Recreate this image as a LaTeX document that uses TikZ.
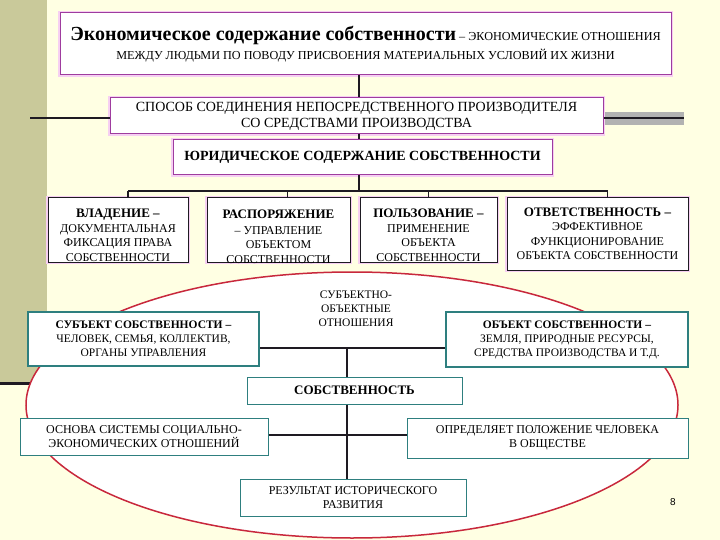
\documentclass[tikz,border=0pt]{standalone}
\usepackage{fontspec}
\setmainfont{Liberation Serif}
\newfontfamily\pagefont{Liberation Sans}
\definecolor{paper}{HTML}{FFFFE3}
\definecolor{band}{HTML}{C9C99A}
\definecolor{plum}{HTML}{9E3C9E}
\definecolor{glow}{HTML}{F6CFF2}
\definecolor{sea}{HTML}{2E7F7F}
\definecolor{rim}{HTML}{C8283C}
\definecolor{ink}{HTML}{1E1A22}
\tikzset{line width=1pt,
  every node/.style={font=\fontsize{12}{14.5}\selectfont},
  plumbox/.style={draw=plum,fill=white,line width=1pt,preaction={draw=glow,line width=3.5pt},inner sep=0pt,align=center},
  darkbox/.style={plumbox,draw=ink},
  boxtext/.style={align=center,inner sep=0pt},
  seabox/.style={draw=sea,fill=white,line width=1pt,inner sep=0pt,align=center},
  heavybox/.style={seabox,line width=2.5pt},
  link/.style={draw=ink,line width=1.2pt}}
\begin{document}
\begin{tikzpicture}[x=1pt,y=-1pt]
\useasboundingbox(0,0)rectangle(720,540);
\fill[paper](0,0)rectangle(720,540);\fill[band](0,0)rectangle(47,383);
\draw[ink,line width=3pt](0,383.5)--(60,383.5);\fill[gray!60](604,112)rectangle(684,125);
\draw[rim,line width=1.5pt,fill=white](352,405)ellipse[x radius=326,y radius=133];
% upper chain
\node[plumbox,minimum width=611,minimum height=62,font=\fontsize{12.2}{19}\selectfont](top)at(365.5,44)
  {{\bfseries\fontsize{20}{19}\selectfont Экономическое содержание собственности} – ЭКОНОМИЧЕСКИЕ ОТНОШЕНИЯ\\МЕЖДУ ЛЮДЬМИ ПО ПОВОДУ ПРИСВОЕНИЯ МАТЕРИАЛЬНЫХ УСЛОВИЙ ИХ ЖИЗНИ};
\node[plumbox,minimum width=493,minimum height=36,font=\fontsize{14}{16}\selectfont](sposob)at(356.5,116)
  {СПОСОБ СОЕДИНЕНИЯ НЕПОСРЕДСТВЕННОГО ПРОИЗВОДИТЕЛЯ\\СО СРЕДСТВАМИ ПРОИЗВОДСТВА};
\node[plumbox,minimum width=379,minimum height=35,font=\bfseries\fontsize{14}{16}\selectfont](yurid)at(362.5,157.5)
  {ЮРИДИЧЕСКОЕ СОДЕРЖАНИЕ СОБСТВЕННОСТИ};
\node[darkbox,minimum width=140,minimum height=64](vlad)at(118,230){};
\node[darkbox,minimum width=143,minimum height=64](rasp)at(278.5,230){};
\node[darkbox,minimum width=137,minimum height=64](polz)at(428.5,230){};
\node[boxtext](vladtxt)at([yshift=-5.5]vlad){\textbf{\fontsize{13}{14.5}\selectfont ВЛАДЕНИЕ –}\\ДОКУМЕНТАЛЬНАЯ\\ФИКСАЦИЯ ПРАВА\\СОБСТВЕННОСТИ};
\node[boxtext](rasptxt)at([yshift=-6.5]rasp){\textbf{\fontsize{13}{14.5}\selectfont РАСПОРЯЖЕНИЕ}\\[1.5pt]– УПРАВЛЕНИЕ\\ОБЪЕКТОМ\\СОБСТВЕННОСТИ};
\node[boxtext](polztxt)at([yshift=-5.5]polz){\textbf{\fontsize{13}{14.5}\selectfont ПОЛЬЗОВАНИЕ –}\\ПРИМЕНЕНИЕ\\ОБЪЕКТА\\СОБСТВЕННОСТИ};
\node[darkbox,minimum width=181,minimum height=72](otv)at(597.5,234)
  {\textbf{\fontsize{13}{14.5}\selectfont ОТВЕТСТВЕННОСТЬ –}\\ЭФФЕКТИВНОЕ\\ФУНКЦИОНИРОВАНИЕ\\ОБЪЕКТА СОБСТВЕННОСТИ};
\coordinate(trunk)at(359,0);\coordinate(fork)at(359,191);
\draw[link](top.south-|trunk)--(sposob.north-|trunk);\draw[link](sposob.south-|trunk)--(yurid.north-|trunk);
\draw[link](yurid.south-|fork)--(fork);\draw[link]([xshift=10]vlad.north|-fork)--([xshift=10]otv.north|-fork);
\foreach \n/\s in {vlad/10,rasp/9,polz/0,otv/10}\draw[link]([xshift=\s]\n.north|-fork)--([xshift=\s]\n.north);
\coordinate(lstub)at(30,118);\coordinate(rstub)at(684,118);
\draw[ink,line width=2pt](lstub)--(lstub-|sposob.west);\draw[ink,line width=2pt](sposob.east|-rstub)--(rstub);
% ellipse part
\node[heavybox,minimum width=231,minimum height=54,font=\fontsize{11.5}{14}\selectfont](subj)at(143.5,339)
  {\textbf{СУБЪЕКТ СОБСТВЕННОСТИ –}\\ЧЕЛОВЕК, СЕМЬЯ, КОЛЛЕКТИВ,\\ОРГАНЫ УПРАВЛЕНИЯ};
\node[heavybox,minimum width=242,minimum height=55,font=\fontsize{11.5}{14}\selectfont](obj)at(567,339.5)
  {\textbf{ОБЪЕКТ СОБСТВЕННОСТИ –}\\ЗЕМЛЯ, ПРИРОДНЫЕ РЕСУРСЫ,\\СРЕДСТВА ПРОИЗВОДСТВА И Т.Д.};
\node[align=center,font=\fontsize{11.5}{14}\selectfont](rel)at(356,309){СУБЪЕКТНО-\\ОБЪЕКТНЫЕ\\ОТНОШЕНИЯ};
\node[seabox,minimum width=215,minimum height=27,font=\bfseries\fontsize{13}{15}\selectfont](sobst)at(354.5,390.5){СОБСТВЕННОСТЬ};
\node[seabox,minimum width=248,minimum height=37](osnova)at(144,436.5){ОСНОВА СИСТЕМЫ СОЦИАЛЬНО-\\ЭКОНОМИЧЕСКИХ ОТНОШЕНИЙ};
\node[seabox,minimum width=281,minimum height=40](opred)at(547.5,438){ОПРЕДЕЛЯЕТ ПОЛОЖЕНИЕ ЧЕЛОВЕКА\\В ОБЩЕСТВЕ};
\node[seabox,minimum width=226,minimum height=37](rez)at(353,497.5){РЕЗУЛЬТАТ ИСТОРИЧЕСКОГО\\РАЗВИТИЯ};
\coordinate(join)at(347,348);\coordinate(mid)at(347,435);
\draw[link](subj.east|-join)--(obj.west|-join);\draw[link](join)--(join|-sobst.north);
\draw[link](osnova.east|-mid)--(opred.west|-mid);\draw[link](sobst.south-|mid)--(rez.north-|mid);
\node[font=\pagefont\fontsize{10}{12}\selectfont](pageno)at(673,502){8};
\end{tikzpicture}
\end{document}
